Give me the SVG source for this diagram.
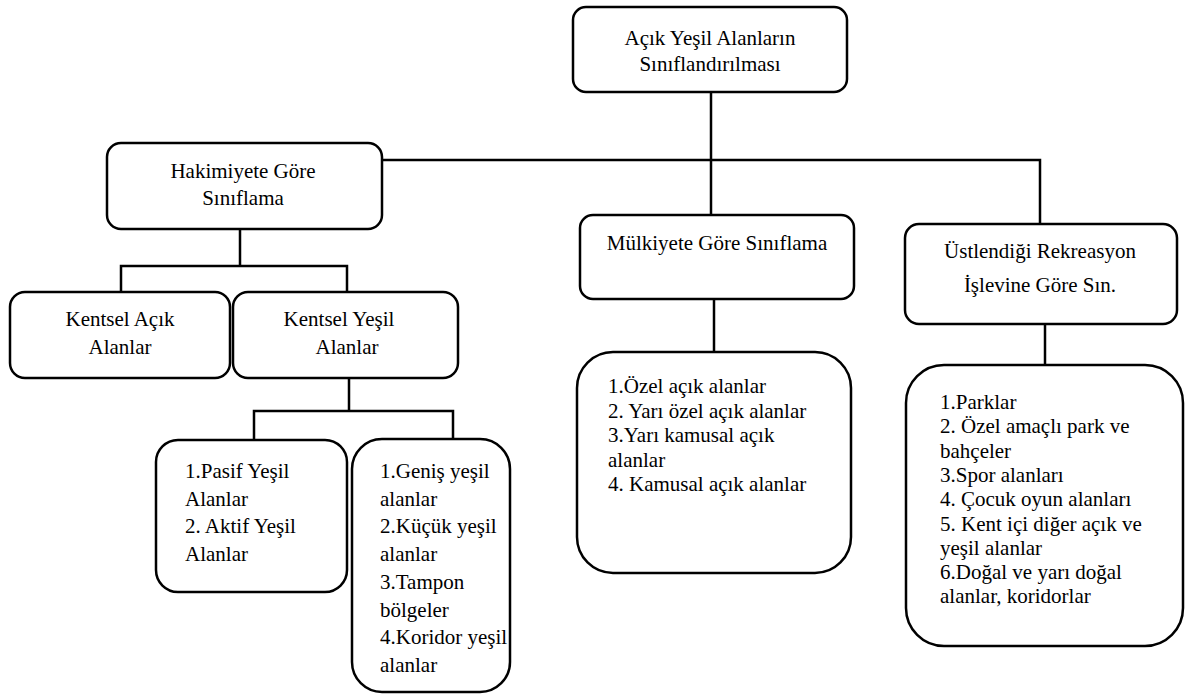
<svg xmlns="http://www.w3.org/2000/svg" width="1185" height="695" viewBox="0 0 1185 695">
<style>
.box{fill:#fff;stroke:#000;stroke-width:2.5}
.ln{fill:none;stroke:#000;stroke-width:2.5}
.t{font-family:"Liberation Serif","Times New Roman",serif;font-size:21px;fill:#000}
.c{text-anchor:middle}
</style>
<rect width="1185" height="695" fill="#fff"/>
<g id="connectors">
<path class="ln" d="M711 92V215"/>
<path class="ln" d="M382 160H1040V224"/>
<path class="ln" d="M240 229V266M121 292V266H347V292"/>
<path class="ln" d="M349 378V411M254 439V411H453V439"/>
<path class="ln" d="M714 299V352"/>
<path class="ln" d="M1045 324V365"/>
</g>
<g id="root" class="t">
<rect class="box" x="573" y="7" width="274" height="85" rx="13"/>
<text class="c" x="710" y="45">Açık Yeşil Alanların</text>
<text class="c" x="710" y="71">Sınıflandırılması</text>
</g>
<g id="hakimiyete" class="t">
<rect class="box" x="107" y="143" width="275" height="86" rx="14"/>
<text class="c" x="243" y="178">Hakimiyete Göre</text>
<text class="c" x="243" y="205">Sınıflama</text>
</g>
<g id="kentsel-acik" class="t">
<rect class="box" x="10" y="292" width="220" height="86" rx="15"/>
<text class="c" x="120" y="326">Kentsel Açık</text>
<text class="c" x="120" y="354">Alanlar</text>
</g>
<g id="kentsel-yesil" class="t">
<rect class="box" x="233" y="292" width="225" height="86" rx="15"/>
<text class="c" x="339" y="326">Kentsel Yeşil</text>
<text class="c" x="347" y="354">Alanlar</text>
</g>
<g id="pasif-aktif" class="t">
<rect class="box" x="156" y="440" width="191" height="152" rx="22"/>
<text x="185" y="478">1.Pasif Yeşil</text>
<text x="185" y="505.7">Alanlar</text>
<text x="185" y="533.4">2. Aktif Yeşil</text>
<text x="185" y="561.1">Alanlar</text>
</g>
<g id="genis" class="t">
<rect class="box" x="352" y="439" width="158" height="253" rx="30"/>
<text x="380" y="478">1.Geniş yeşil</text>
<text x="380" y="505.7">alanlar</text>
<text x="380" y="533.4">2.Küçük yeşil</text>
<text x="380" y="561.1">alanlar</text>
<text x="380" y="588.8">3.Tampon</text>
<text x="380" y="616.5">bölgeler</text>
<text x="380" y="644.2">4.Koridor yeşil</text>
<text x="380" y="671.9">alanlar</text>
</g>
<g id="mulkiyete" class="t">
<rect class="box" x="580" y="215" width="274" height="84" rx="13"/>
<text class="c" x="717" y="250">Mülkiyete Göre Sınıflama</text>
</g>
<g id="mulkiyete-list" class="t">
<rect class="box" x="577" y="352" width="274" height="221" rx="36"/>
<text x="608" y="393">1.Özel açık alanlar</text>
<text x="608" y="417.5">2. Yarı özel açık alanlar</text>
<text x="608" y="442">3.Yarı kamusal açık</text>
<text x="608" y="466.5">alanlar</text>
<text x="608" y="491">4. Kamusal açık alanlar</text>
</g>
<g id="rekreasyon" class="t">
<rect class="box" x="905" y="224" width="272" height="100" rx="14"/>
<text class="c" x="1040" y="258">Üstlendiği Rekreasyon</text>
<text class="c" x="1040" y="292">İşlevine Göre Sın.</text>
</g>
<g id="rekreasyon-list" class="t">
<rect class="box" x="906" y="365" width="277" height="281" rx="38"/>
<text x="940" y="409">1.Parklar</text>
<text x="940" y="433.3">2. Özel amaçlı park ve</text>
<text x="940" y="457.6">bahçeler</text>
<text x="940" y="481.9">3.Spor alanları</text>
<text x="940" y="506.2">4. Çocuk oyun alanları</text>
<text x="940" y="530.5">5. Kent içi diğer açık ve</text>
<text x="940" y="554.8">yeşil alanlar</text>
<text x="940" y="579.1">6.Doğal ve yarı doğal</text>
<text x="940" y="603.4">alanlar, koridorlar</text>
</g>
</svg>
